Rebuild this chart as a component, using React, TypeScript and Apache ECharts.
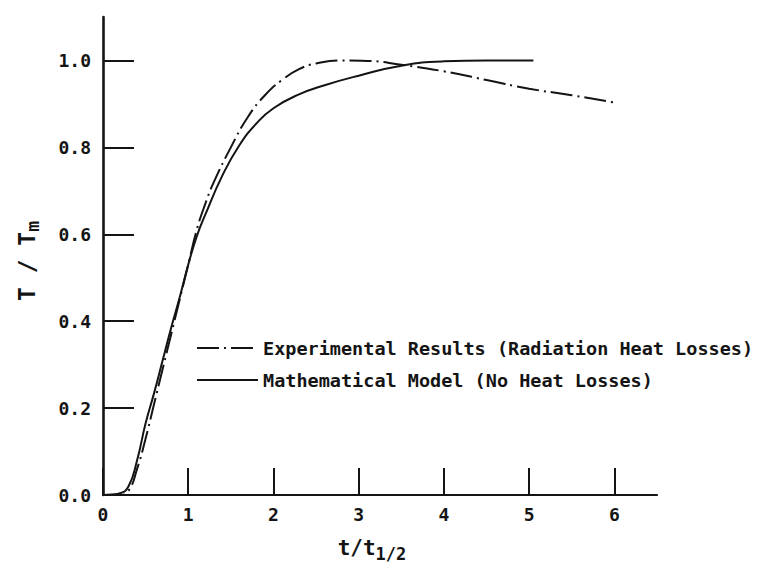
import React, { useEffect, useRef } from "react";
import * as echarts from "echarts";

// t / t_1/2 and T / T_m for the mathematical model (no heat losses)
const modelT = [0, 0.1, 0.2, 0.3, 0.4, 0.5, 0.6, 0.7, 0.8, 0.9, 1.0, 1.1, 1.2, 1.4, 1.6, 1.8, 2.0, 2.3, 2.6, 3.0, 3.5, 4.0, 4.5, 5.05];
const modelV = [0, 0.001, 0.004, 0.02, 0.08, 0.165, 0.235, 0.31, 0.385, 0.455, 0.53, 0.595, 0.645, 0.735, 0.805, 0.855, 0.89, 0.922, 0.943, 0.965, 0.988, 0.998, 1.0, 1.0];

// experimental results (radiation heat losses)
const expT = [0, 0.2, 0.3, 0.4, 0.5, 0.6, 0.7, 0.8, 0.9, 1.0, 1.1, 1.2, 1.3, 1.5, 1.7, 1.9, 2.1, 2.3, 2.5, 2.8, 3.1, 3.5, 4.0, 4.5, 5.0, 5.5, 6.0];
const expV = [0, 0.0, 0.01, 0.06, 0.13, 0.21, 0.29, 0.37, 0.45, 0.53, 0.61, 0.67, 0.72, 0.8, 0.87, 0.92, 0.955, 0.98, 0.993, 1.0, 0.999, 0.99, 0.975, 0.955, 0.935, 0.92, 0.903];

const xTicks = [0, 1, 2, 3, 4, 5, 6];
const yTicks = [0, 0.2, 0.4, 0.6, 0.8, 1.0];

const expName = "Experimental Results (Radiation Heat Losses)";
const modelName = "Mathematical Model (No Heat Losses)";

const INK = "#141414";
const MONO = "'DejaVu Sans Mono', monospace";

export default function App() {
  const ref = useRef<HTMLDivElement>(null);

  useEffect(() => {
    if (!ref.current) return;
    const chart = echarts.init(ref.current, null, { renderer: "svg" });
    chart.setOption({
      animation: false,
      backgroundColor: "#ffffff",
      grid: { left: 103, right: 102, top: 17, bottom: 77, containLabel: false },
      legend: {
        orient: "vertical",
        left: 196,
        top: 338,
        padding: 0,
        itemWidth: 61,
        itemHeight: 20,
        itemGap: 12,
        selectedMode: false,
        itemStyle: { opacity: 0, borderWidth: 0 },
        textStyle: { fontFamily: MONO, fontSize: 18.5, fontWeight: "bold", color: INK, lineHeight: 20 },
        data: [expName, modelName],
      },
      xAxis: {
        type: "value",
        min: 0,
        max: 6.5,
        interval: 1,
        name: "t/t{sub|1/2}",
        nameLocation: "middle",
        nameGap: 38,
        nameTextStyle: {
          fontFamily: MONO,
          fontSize: 21,
          fontWeight: "bold",
          color: INK,
          padding: [0, 16, 0, 0],
          rich: { sub: { fontFamily: MONO, fontSize: 17, fontWeight: "bold", color: INK, verticalAlign: "bottom", padding: [12, 0, 0, 0] } },
        },
        axisLine: { show: true, onZero: false, lineStyle: { color: INK, width: 2.2 } },
        axisTick: { show: true, inside: true, length: 27, customValues: xTicks, lineStyle: { color: INK, width: 2 } },
        axisLabel: {
          customValues: xTicks,
          margin: 10,
          fontFamily: MONO,
          fontSize: 18,
          fontWeight: "bold",
          color: INK,
          formatter: (v: number) => String(v),
        },
        splitLine: { show: false },
      },
      yAxis: {
        type: "value",
        min: 0,
        max: 1.1,
        interval: 0.2,
        name: "T / T{sub|m}",
        nameLocation: "middle",
        nameGap: 62,
        nameRotate: 90,
        nameTextStyle: {
          fontFamily: MONO,
          fontSize: 23,
          fontWeight: "bold",
          color: INK,
          padding: [0, 10, 0, 0],
          rich: { sub: { fontFamily: MONO, fontSize: 18, fontWeight: "bold", color: INK, padding: [10, 0, 0, 0] } },
        },
        axisLine: { show: true, onZero: false, lineStyle: { color: INK, width: 2.6 } },
        axisTick: { show: true, inside: true, length: 31, customValues: yTicks, lineStyle: { color: INK, width: 2 } },
        axisLabel: {
          customValues: yTicks,
          margin: 12,
          fontFamily: MONO,
          fontSize: 18,
          fontWeight: "bold",
          color: INK,
          formatter: (v: number) => v.toFixed(1),
        },
        splitLine: { show: false },
      },
      series: [
        {
          name: expName,
          type: "line",
          data: expT.map((t, i) => [t, expV[i]]),
          symbol: "none",
          smooth: 0.5,
          lineStyle: { color: INK, width: 2, type: [22, 5, 2, 5] },
          itemStyle: { color: INK },
        },
        {
          name: modelName,
          type: "line",
          data: modelT.map((t, i) => [t, modelV[i]]),
          symbol: "none",
          smooth: 0.5,
          lineStyle: { color: INK, width: 2 },
          itemStyle: { color: INK },
        },
      ],
    });
    return () => chart.dispose();
  }, []);

  return <div ref={ref} style={{ width: 759, height: 572, position: "absolute", left: 0, top: 0 }} />;
}
